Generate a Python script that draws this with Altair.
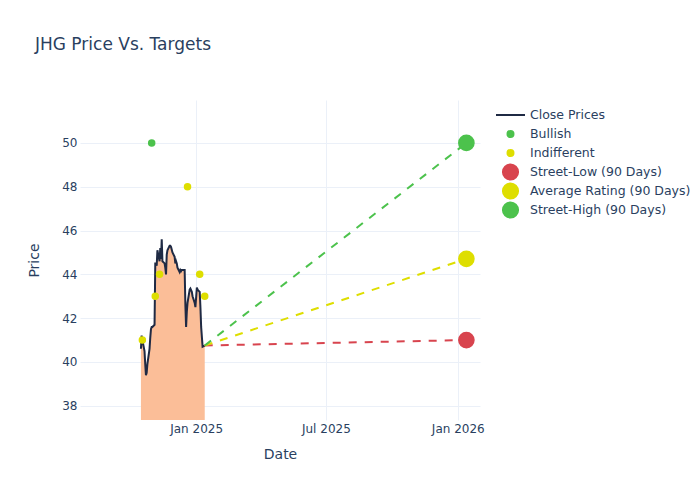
import altair as alt
import pandas as pd

# ---------------- data ----------------
price_dates = [
    "2024-10-16", "2024-10-17", "2024-10-18", "2024-10-21", "2024-10-22", "2024-10-23",
    "2024-10-24", "2024-10-25", "2024-10-28", "2024-10-29", "2024-10-30", "2024-10-31",
    "2024-11-01", "2024-11-04", "2024-11-05", "2024-11-06", "2024-11-07", "2024-11-08",
    "2024-11-11", "2024-11-12", "2024-11-13", "2024-11-14", "2024-11-15", "2024-11-18",
    "2024-11-19", "2024-11-20", "2024-11-21", "2024-11-22", "2024-11-25", "2024-11-26",
    "2024-11-27", "2024-11-29", "2024-12-02", "2024-12-03", "2024-12-04", "2024-12-05",
    "2024-12-06", "2024-12-09", "2024-12-10", "2024-12-11", "2024-12-12", "2024-12-13",
    "2024-12-16", "2024-12-17", "2024-12-18", "2024-12-19", "2024-12-20", "2024-12-23",
    "2024-12-24", "2024-12-26", "2024-12-27", "2024-12-30", "2024-12-31", "2025-01-02",
    "2025-01-03", "2025-01-06", "2025-01-07", "2025-01-08", "2025-01-10", "2025-01-13",
]
price_values = [
    40.6, 41.2, 41.0, 40.5, 39.9, 39.4,
    39.5, 39.9, 40.6, 41.1, 41.5, 41.6,
    41.6, 41.7, 44.5, 44.5, 44.4, 45.1,
    44.6, 45.2, 44.7, 45.6, 44.6, 44.5,
    44.3, 44.0, 44.9, 45.1, 45.3, 45.3,
    45.25, 45.0, 44.8, 44.5, 44.6, 44.5,
    44.3, 44.1, 44.2, 44.15, 44.2, 44.2,
    44.2, 42.6, 41.6, 42.3, 42.7, 43.3,
    43.35, 43.2, 43.0, 42.7, 42.5, 43.4,
    43.3, 43.2, 42.5, 41.6, 40.7, 40.75,
]

bullish_dates = ["2024-10-31"]
bullish_values = [50.0]

indifferent_dates = ["2024-10-18", "2024-11-05", "2024-11-11", "2024-12-20", "2025-01-06", "2025-01-13"]
indifferent_values = [41.0, 43.0, 44.0, 48.0, 44.0, 43.0]

target_date = "2026-01-13"
target_names = ["Street-Low (90 Days)", "Average Rating (90 Days)", "Street-High (90 Days)"]
target_values = [41.0, 44.71, 50.0]

legend_names = ["Close Prices", "Bullish", "Indifferent"] + target_names

# ---------------- styles ----------------
NAVY = "#1f2a44"
GREEN = "#4cc24c"
YELLOW = "#dede00"
RED = "#d8444e"
AREA = "#fbbe98"
TXT = "#2a3f5f"
GRID = "#ebf0f8"
FONT = "DejaVu Sans"

legend_colors = [NAVY, GREEN, YELLOW, RED, YELLOW, GREEN]
legend_sizes = [841, 36, 36, 230, 230, 230]
legend_shapes = ["stroke", "circle", "circle", "circle", "circle", "circle"]

# ---------------- tables ----------------
price_df = pd.DataFrame({"date": price_dates, "value": price_values})

pts_rows = []
for d, v in zip(bullish_dates, bullish_values):
    pts_rows.append({"date": d, "value": v, "series": "Bullish"})
for d, v in zip(indifferent_dates, indifferent_values):
    pts_rows.append({"date": d, "value": v, "series": "Indifferent"})
for n, v in zip(target_names, target_values):
    pts_rows.append({"date": target_date, "value": v, "series": n})
pts_df = pd.DataFrame(pts_rows)

dash_rows = []
for n, v, c in zip(target_names, target_values, [RED, YELLOW, GREEN]):
    dash_rows.append({"date": price_dates[-1], "value": price_values[-1], "series": n, "col": c})
    dash_rows.append({"date": target_date, "value": v, "series": n, "col": c})
dash_df = pd.DataFrame(dash_rows)

# ---------------- encodings ----------------
x_scale = alt.Scale(
    type="utc",
    domain=[alt.DateTime(year=2024, month=7, date=23, utc=True),
            alt.DateTime(year=2026, month=2, date=1, utc=True)],
    nice=False,
)
y_scale = alt.Scale(domain=[37.35, 51.96], zero=False, nice=False)

X = alt.X("date:T", scale=x_scale, title="Date",
          axis=alt.Axis(values=[alt.DateTime(year=2025, month=1, date=1, utc=True),
                                alt.DateTime(year=2025, month=7, date=1, utc=True),
                                alt.DateTime(year=2026, month=1, date=1, utc=True)],
                        format="%b %Y", labelPadding=3, titlePadding=13))
Y = alt.Y("value:Q", scale=y_scale, title="Price",
          axis=alt.Axis(values=[38, 40, 42, 44, 46, 48, 50], labelPadding=3, titlePadding=20))

leg = alt.Legend(title=None, orient="none", legendX=415, legendY=5.5,
                 labelFontSize=12.5, labelColor=TXT, labelFont=FONT, labelOffset=4,
                 labelLimit=300, rowPadding=0, clipHeight=19,
                 symbolStrokeWidth=2, padding=0)

col_scale = alt.Scale(domain=legend_names, range=legend_colors)
size_scale = alt.Scale(type="ordinal", domain=legend_names, range=legend_sizes)
shape_scale = alt.Scale(domain=legend_names, range=legend_shapes)

area = alt.Chart(price_df).mark_area(color=AREA, opacity=1, clip=True).encode(x=X, y=Y)
line = alt.Chart(price_df).mark_line(color=NAVY, strokeWidth=2).encode(x=X, y=Y)
dash = alt.Chart(dash_df).mark_line(strokeDash=[8, 8], strokeWidth=2).encode(
    x=X, y=Y, detail="series:N", color=alt.Color("col:N", scale=None))
pts = alt.Chart(pts_df).mark_point(filled=True, opacity=1, strokeWidth=1.5).encode(
    x=X, y=Y,
    fill=alt.Fill("series:N", scale=col_scale, legend=leg),
    stroke=alt.Stroke("series:N", scale=col_scale, legend=leg),
    size=alt.Size("series:N", scale=size_scale, legend=leg),
    shape=alt.Shape("series:N", scale=shape_scale, legend=leg),
)

chart = alt.layer(area, line, dash, pts).properties(
    width=400, height=320,
    autosize=alt.AutoSizeParams(type="none"),
    padding={"left": 72, "top": 92, "right": 212, "bottom": 72},
    title=alt.Title("JHG Price Vs. Targets", anchor="start", frame="group", dx=-45, offset=46,
                    fontSize=17, font=FONT, color=TXT, fontWeight="normal"),
).configure_view(stroke=None).configure_axis(
    grid=True, gridColor=GRID, domain=False, ticks=False,
    labelFont=FONT, labelFontSize=12, labelColor=TXT,
    titleFont=FONT, titleFontSize=14, titleColor=TXT, titleFontWeight="normal",
)

chart.save("out.html", embed_options={"renderer": "svg", "actions": False})
